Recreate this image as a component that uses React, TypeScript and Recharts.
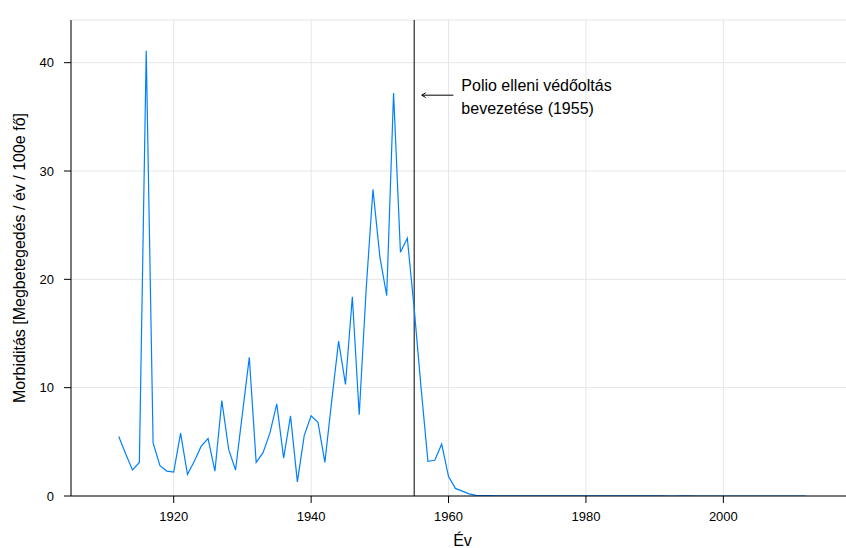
import React from 'react';
import {
  LineChart,
  Line,
  XAxis,
  YAxis,
  CartesianGrid,
  ReferenceLine,
} from 'recharts';

// Polio morbidity per 100 000 inhabitants, one value per year from 1912.
const firstYear = 1912;
const morbidity = [
  5.5, 3.9, 2.4, 3.1, 41.1, 4.9, 2.8, 2.3, 2.2, 5.8, // 1912-1921
  2.0, 3.2, 4.6, 5.3, 2.3, 8.8, 4.3, 2.4, 7.6, 12.8, // 1922-1931
  3.1, 4.0, 5.8, 8.5, 3.5, 7.4, 1.3, 5.6, 7.4, 6.8, // 1932-1941
  3.1, 8.8, 14.3, 10.3, 18.4, 7.5, 19.0, 28.3, 22.1, 18.5, // 1942-1951
  37.2, 22.5, 23.8, 17.3, 10.0, 3.2, 3.3, 4.8, 1.8, 0.7, // 1952-1961
  0.45, 0.2, 0.05, 0.04, 0.03, 0.02, 0.02, 0.01, 0.02, 0.01, // 1962-1971
  0.01, 0.005, 0.004, 0.004, 0.005, 0.009, 0.007, 0.005, 0.004, 0.003, // 1972-1981
  0.004, 0.005, 0.004, 0.003, 0.004, 0.004, 0.004, 0.004, 0.003, 0.004, // 1982-1991
  0.002, 0.002, 0.003, 0.003, 0.002, 0.002, 0.001, 0, 0, 0, // 1992-2001
  0, 0, 0, 0, 0, 0, 0, 0, 0, 0, 0, // 2002-2012
];

const xTicks = [1920, 1940, 1960, 1980, 2000];
const yTicks = [0, 10, 20, 30, 40];
// The panel runs past the right edge of the visible frame.
const xDomain = [1905.05, 2017.85 + 14 / 6.87];
const yDomain = [0, 43.94];

const vaccineYear = 1955;
const noteLines = ['Polio elleni védőoltás', 'bevezetése (1955)'];
const arrowFrom = { x: 1960.7, y: 37 };
const arrowTo = { x: 1956.1, y: 37 };

const yLabel = 'Morbiditás [Megbetegedés / év / 100e fő]';
const xLabel = 'Év';

const data = morbidity.map((v, i) => ({ year: firstYear + i, value: v }));

const FONT = '"Liberation Sans", Arial, Helvetica, sans-serif';

// Arrow pointing at the vaccination line, with the two-line note after it.
const ArrowNote = (props: any) => {
  const { x1, y1, x2, y2 } = props;
  const head = 4;
  return (
    <g>
      <line x1={x1} y1={y1} x2={x2} y2={y2} stroke="#000" strokeWidth={1} />
      <path
        d={`M ${x2 + head} ${y2 - head * 0.6} L ${x2} ${y2} L ${x2 + head} ${y2 + head * 0.6}`}
        fill="none"
        stroke="#000"
        strokeWidth={1}
      />
      <text x={x1 + 8} y={y1 - 4} fontSize={16} fill="#000" fontFamily={FONT}>
        {noteLines[0]}
      </text>
      <text x={x1 + 8} y={y1 + 19} fontSize={16} fill="#000" fontFamily={FONT}>
        {noteLines[1]}
      </text>
    </g>
  );
};

const YTitle = (props: any) => {
  const vb = props.viewBox;
  const cx = 25;
  const cy = vb.y + vb.height / 2;
  return (
    <text
      x={cx}
      y={cy}
      transform={`rotate(-90, ${cx}, ${cy})`}
      textAnchor="middle"
      fontSize={16}
      fill="#000"
      fontFamily={FONT}
    >
      {yLabel}
    </text>
  );
};

const XTitle = (props: any) => {
  const vb = props.viewBox;
  return (
    <text
      x={vb.x + vb.width / 2 - 3}
      y={vb.y + vb.height - 2}
      textAnchor="middle"
      fontSize={16}
      fill="#000"
      fontFamily={FONT}
    >
      {xLabel}
    </text>
  );
};

export default function App() {
  const tickStyle = { fontSize: 13, fill: '#000', fontFamily: FONT };
  return (
    <div
      style={{
        position: 'fixed',
        left: 0,
        top: 0,
        width: 846,
        height: 548,
        overflow: 'hidden',
        background: '#fff',
      }}
    >
      <LineChart
        width={860}
        height={548}
        data={data}
        margin={{ top: 20, right: 0, bottom: 0, left: 0 }}
        style={{ fontFamily: FONT }}
      >
        <CartesianGrid stroke="#e6e6e6" strokeWidth={1} />
        <XAxis
          dataKey="year"
          type="number"
          domain={xDomain}
          allowDataOverflow
          ticks={xTicks}
          height={52}
          tickSize={7}
          tickMargin={9}
          tick={tickStyle}
          axisLine={{ stroke: '#000' }}
          tickLine={{ stroke: '#000' }}
          label={<XTitle />}
        />
        <XAxis
          xAxisId="top"
          orientation="top"
          dataKey="year"
          type="number"
          domain={xDomain}
          allowDataOverflow
          ticks={xTicks}
          height={0}
          tickSize={7}
          tick={() => <g />}
          axisLine={{ stroke: '#000' }}
          tickLine={{ stroke: '#000' }}
        />
        <YAxis
          type="number"
          domain={yDomain}
          allowDataOverflow
          ticks={yTicks}
          width={71}
          tickSize={7}
          tickMargin={10}
          tick={tickStyle}
          axisLine={{ stroke: '#000' }}
          tickLine={{ stroke: '#000' }}
          label={<YTitle />}
        />
        <ReferenceLine x={vaccineYear} stroke="#000" strokeWidth={1} />
        <ReferenceLine
          segment={[arrowTo, arrowFrom]}
          shape={(p: any) => (
            <ArrowNote x1={p.x2} y1={p.y2} x2={p.x1} y2={p.y1} />
          )}
        />
        <Line
          type="linear"
          dataKey="value"
          stroke="#0080ff"
          strokeWidth={1.2}
          dot={false}
          isAnimationActive={false}
        />
      </LineChart>
    </div>
  );
}
